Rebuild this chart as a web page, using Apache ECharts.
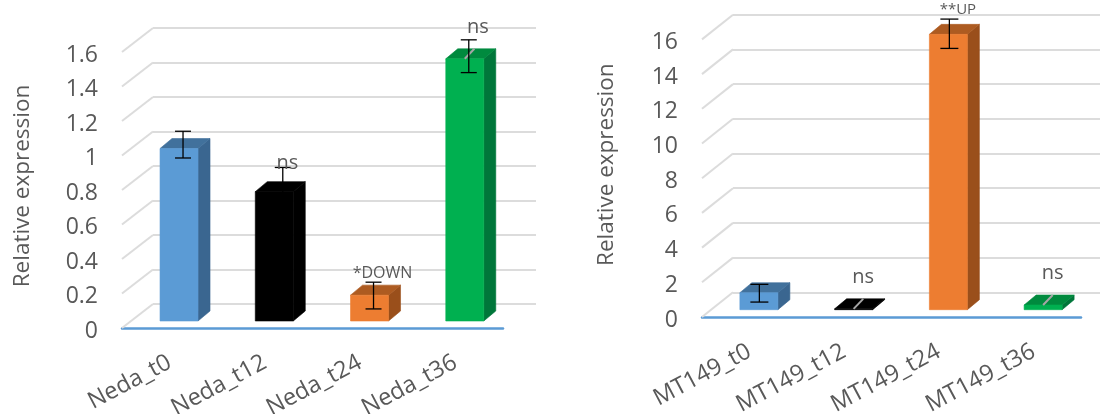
<!DOCTYPE html>
<html><head><meta charset="utf-8">
<style>html,body{margin:0;padding:0;background:#fff}#c{width:1100px;height:414px;filter:blur(0.45px)}</style>
<script src="https://cdn.jsdelivr.net/npm/echarts@6/dist/echarts.min.js"></script>
</head><body><div id="c"></div>
<script>
const nedaCategories = ['Neda_t0','Neda_t12','Neda_t24','Neda_t36'];
const nedaValues = [1.0, 0.75, 0.15, 1.52];
const nedaErrHigh = [1.10, 0.89, 0.225, 1.63];
const nedaErrLow = [0.945, 0.72, 0.07, 1.44];
const nedaNotes = ['', 'ns', '*DOWN', 'ns'];
const nedaNoteAt = [0, 0.916, 0.278, 1.70];
const nedaSlash = [0, 0, 0, 1];
const nedaTicks = [0,0.2,0.4,0.6,0.8,1,1.2,1.4,1.6];

const mtCategories = ['MT149_t0','MT149_t12','MT149_t24','MT149_t36'];
const mtValues = [0.98, 0.05, 15.87, 0.27];
const mtErrHigh = [1.46, null, 16.75, null];
const mtErrLow = [0.44, null, 15.06, null];
const mtNotes = ['', 'ns', '**UP', 'ns'];
const mtNoteAt = [0, 1.84, 17.27, 2.1];
const mtSlash = [0, 1, 0, 1];
const mtTicks = [0,2,4,6,8,10,12,14,16];

const faces = [
  ['#5b9bd5','#41719c','#3a6690'],
  ['#000000','#000000','#000000'],
  ['#ed7d31','#ad5b21','#9a4f1b'],
  ['#00b050','#008a3e','#00763a']
];
const FONT = '"Open Sans", sans-serif';
const TEXT = '#595959';

const grid = [
  {left:122, top:52, width:381, height:276, outerBoundsMode:'none'},
  {left:153, top:28, width:383, height:276, outerBoundsMode:'none'},
  {left:702, top:39.4, width:379, height:277.6, outerBoundsMode:'none'},
  {left:733, top:14.7, width:367, height:277.6, outerBoundsMode:'none'}
];
function frontAxes(i, cats, max, interval, nameGap, namePad){
  return {
    x:{type:'category', gridIndex:i, data:cats,
       axisLine:{lineStyle:{color:'#5b9bd5',width:2.5}}, axisTick:{show:false},
       axisLabel:{rotate:28, margin:33, color:TEXT, fontFamily:FONT, fontSize:23.5, interval:0}},
    y:{type:'value', gridIndex:i, min:0, max:max, interval:interval,
       name:'Relative expression', nameLocation:'middle', nameGap:nameGap,
       nameTextStyle:{color:TEXT, fontFamily:FONT, fontSize:22.5, padding:[0,0,0,namePad]},
       axisLine:{show:false}, axisTick:{show:false}, splitLine:{show:false},
       axisLabel:{margin:24, formatter:'{v|{value}}',
         rich:{v:{color:TEXT, fontFamily:FONT, fontSize:23, padding:[6,0,0,0]}}}}
  };
}
function backAxes(i, cats, max, interval){
  return {
    x:{type:'category', gridIndex:i, data:cats, show:false},
    y:{type:'value', gridIndex:i, min:0, max:max, interval:interval,
       axisLine:{show:false}, axisTick:{show:false}, axisLabel:{show:false},
       splitLine:{show:true, lineStyle:{color:'#dcdcdc', width:2}}}
  };
}
const a0 = frontAxes(0, nedaCategories, 1.6, 0.2, 88, 8);
const a1 = backAxes(1, nedaCategories, 1.6, 0.2);
const a2 = frontAxes(2, mtCategories, 16, 2, 84, 27);
const a3 = backAxes(3, mtCategories, 16, 2);

function diagonals(ticks, xyIndex, depthX, depthY){
  return {
    type:'custom', xAxisIndex:xyIndex, yAxisIndex:xyIndex, z:1, silent:true, clip:false,
    data: ticks.map(t => [0, t]),
    renderItem(params, api){
      const y = api.coord([0, api.value(1)])[1];
      const x = params.coordSys.x;
      return {type:'line', shape:{x1:x, y1:y, x2:x+depthX, y2:y-depthY},
              style:{stroke:'#dcdcdc', lineWidth:2}};
    }
  };
}
function bars(vals, hi, lo, slash, xyIndex, opt){
  return {
    type:'custom', xAxisIndex:xyIndex, yAxisIndex:xyIndex, z:3, silent:true, clip:false,
    data: vals.map((v,i) => [i, v, hi[i], lo[i], slash[i]]),
    encode:{x:0, y:1},
    renderItem(params, api){
      const i = api.value(0), v = api.value(1);
      const c = api.coord([i, v]), z = api.coord([i, 0]);
      const x0 = c[0] + opt.shift - opt.w/2, x1 = x0 + opt.w;
      const yt = c[1] - opt.lift, yb = z[1] - opt.lift;
      const f = faces[i];
      const kids = [
        {type:'polygon', shape:{points:[[x1,yb],[x1+opt.dx,yb-opt.dy],[x1+opt.dx,yt-opt.dy],[x1,yt]]}, style:{fill:f[2], stroke:f[2], lineWidth:0.6}},
        {type:'polygon', shape:{points:[[x0,yt],[x1,yt],[x1+opt.dx,yt-opt.dy],[x0+opt.dx,yt-opt.dy]]}, style:{fill:f[1], stroke:f[1], lineWidth:0.6}},
        {type:'polygon', shape:{points:[[x0,yb],[x1,yb],[x1,yt],[x0,yt]]}, style:{fill:f[0], stroke:f[0], lineWidth:0.6}}
      ];
      if (api.value(4)) {
        const mx = (x0+x1)/2;
        kids.push({type:'line', shape:{x1:mx, y1:yt, x2:mx+opt.dx*0.8, y2:yt-opt.dy}, style:{stroke:'#a6a6a6', lineWidth:2}});
      }
      const h = hi[i], l = lo[i];
      if (h != null) {
        const ex = (x0+x1)/2 + opt.errX[i];
        const yh = api.coord([i,h])[1]-opt.lift, yl = api.coord([i,l])[1]-opt.lift;
        const s = {stroke:'#000', lineWidth:1.3};
        kids.push({type:'line', shape:{x1:ex, y1:yh, x2:ex, y2:yl}, style:s});
        kids.push({type:'line', shape:{x1:ex-opt.cap, y1:yh, x2:ex+opt.cap, y2:yh}, style:s});
        kids.push({type:'line', shape:{x1:ex-opt.cap, y1:yl, x2:ex+opt.cap, y2:yl}, style:s});
      }
      return {type:'group', children:kids};
    }
  };
}
function notes(texts, at, xyIndex, opt){
  return {
    type:'custom', xAxisIndex:xyIndex, yAxisIndex:xyIndex, z:4, silent:true, clip:false,
    data: texts.map((t,i) => [i, at[i]]),
    renderItem(params, api){
      const i = api.value(0);
      const t = texts[i];
      if (!t) return null;
      const c = api.coord([i, api.value(1)]);
      return {type:'text', style:{text:t, x:c[0]+opt.shift+opt.noteX, y:c[1]-opt.lift,
        fill:TEXT, font:(t==='ns'?20:opt.small)+'px '+FONT, align:'center', verticalAlign:'middle'}};
    }
  };
}
const leftOpt = {shift:9.4, w:38, lift:7, dx:12, dy:10, errX:[4,8.5,4,4], cap:8, noteX:13, small:16};
const rightOpt = {shift:9.5, w:38, lift:7.3, dx:12, dy:10, errX:[0.5,0,1,0], cap:9, noteX:9.5, small:15};

const chart = echarts.init(document.getElementById('c'), null, {renderer:'canvas'});
chart.setOption({
  animation:false, backgroundColor:'#fff', grid,
  xAxis:[a0.x,a1.x,a2.x,a3.x], yAxis:[a0.y,a1.y,a2.y,a3.y],
  series:[
    diagonals(nedaTicks, 0, 31, 24),
    diagonals(mtTicks, 2, 31, 24.7),
    bars(nedaValues, nedaErrHigh, nedaErrLow, nedaSlash, 0, leftOpt),
    bars(mtValues, mtErrHigh, mtErrLow, mtSlash, 2, rightOpt),
    notes(nedaNotes, nedaNoteAt, 0, leftOpt),
    notes(mtNotes, mtNoteAt, 2, rightOpt)
  ]
});
</script></body></html>
